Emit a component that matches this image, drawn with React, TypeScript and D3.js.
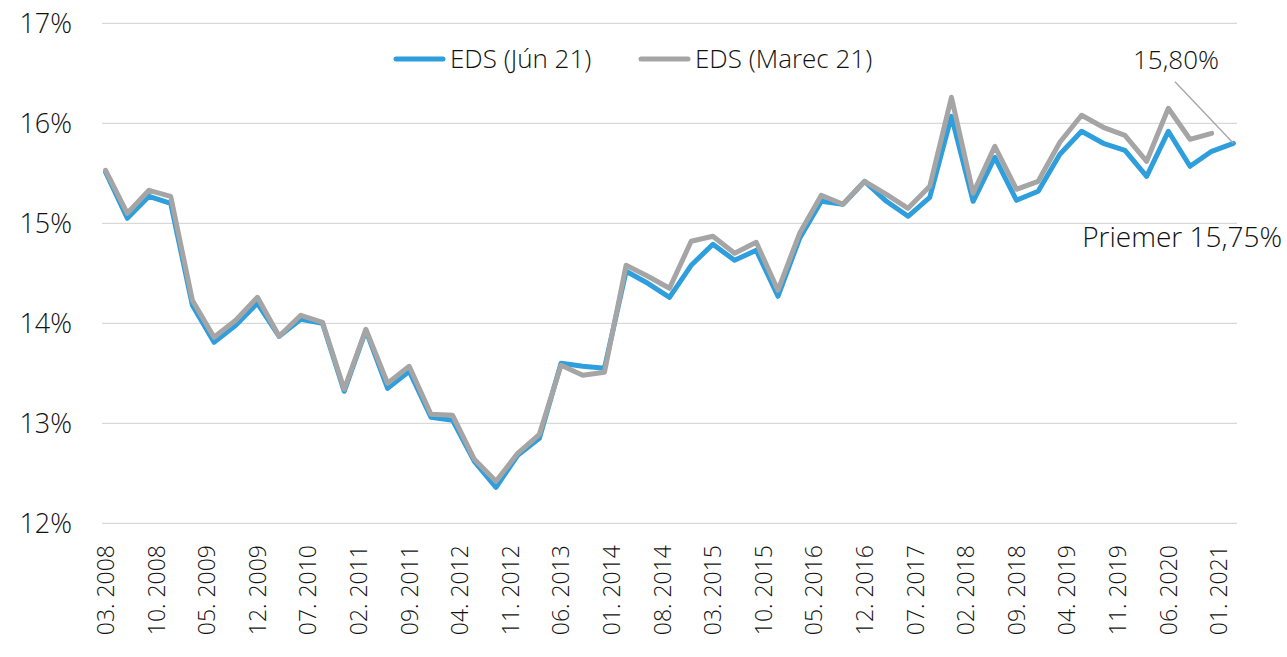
import React from "react";
import * as d3 from "d3";

const W = 1287;
const H = 657;

// quarterly observations starting 03.2008 (month offset 0), step 3 months
const startYear = 2008;
const startMonth = 3;
const blueValues = [
  15.51, 15.05, 15.27, 15.2, 14.18, 13.81, 13.98, 14.2, 13.87, 14.04,
  14.0, 13.32, 13.93, 13.35, 13.52, 13.06, 13.03, 12.62, 12.36, 12.68,
  12.85, 13.6, 13.57, 13.55, 14.52, 14.4, 14.26, 14.58, 14.79, 14.63,
  14.73, 14.27, 14.85, 15.22, 15.19, 15.42, 15.22, 15.07, 15.26, 16.07,
  15.22, 15.66, 15.23, 15.32, 15.69, 15.92, 15.8, 15.73, 15.47, 15.92,
  15.57, 15.72, 15.8,
];
const grayValues = [
  15.53, 15.1, 15.33, 15.27, 14.23, 13.86, 14.03, 14.26, 13.87, 14.08,
  14.01, 13.34, 13.94, 13.4, 13.57, 13.09, 13.08, 12.64, 12.42, 12.7,
  12.89, 13.58, 13.48, 13.51, 14.58, 14.47, 14.35, 14.82, 14.87, 14.7,
  14.81, 14.33, 14.9, 15.28, 15.19, 15.42, 15.29, 15.15, 15.37, 16.26,
  15.3, 15.77, 15.34, 15.42, 15.81, 16.08, 15.96, 15.88, 15.62, 16.15,
  15.84, 15.9,
];
const tickLabels = [
  "03. 2008", "10. 2008", "05. 2009", "12. 2009", "07. 2010", "02. 2011",
  "09. 2011", "04. 2012", "11. 2012", "06. 2013", "01. 2014", "08. 2014",
  "03. 2015", "10. 2015", "05. 2016", "12. 2016", "07. 2017", "02. 2018",
  "09. 2018", "04. 2019", "11. 2019", "06. 2020", "01. 2021",
];
const yTicks = [12, 13, 14, 15, 16, 17];
const seriesNames = ["EDS (Jún 21)", "EDS (Marec 21)"];
const lastLabel = "15,80%";
const avgLabel = "Priemer 15,75%";

const BLUE = "#2E9EDC";
const GRAY = "#A5A5A5";
const FONT = "'Open Sans', sans-serif";
const FW = 300;
const TXT = "#111";

function labelMonthOffset(lbl: string) {
  const [m, y] = lbl.split(".").map((s) => parseInt(s.trim(), 10));
  return (y - startYear) * 12 + (m - startMonth);
}

export default function App() {
  const x = d3.scaleLinear().domain([-0.5, 156.5]).range([102, 1237]);
  const y = d3.scaleLinear().domain([12, 17]).range([523.3, 23.3]);

  const line = d3
    .line<number>()
    .x((_, i) => x(i * 3))
    .y((d) => y(d));

  const lastIdx = blueValues.length - 1;
  const lx = x(lastIdx * 3);
  const ly = y(blueValues[lastIdx]);

  return (
    <svg width={W} height={H} style={{ position: "absolute", left: 0, top: 0, background: "#fff" }}>
      {yTicks.map((t) => (
        <g key={t}>
          <line x1={102} x2={1237} y1={y(t)} y2={y(t)} stroke="#D9D9D9" strokeWidth={1.3} />
          <text
            x={72}
            y={y(t)}
            dy="0.36em"
            textAnchor="end"
            fontFamily={FONT}
            fontWeight={FW}
            fontSize={27}
            fill={TXT}
          >
            {t}%
          </text>
        </g>
      ))}
      {tickLabels.map((lbl) => {
        const tx = x(labelMonthOffset(lbl));
        return (
          <text
            key={lbl}
            transform={`translate(${tx},545) rotate(-90)`}
            dy="0.36em"
            textAnchor="end"
            fontFamily={FONT}
            fontWeight={FW}
            fontSize={23}
            fill={TXT}
          >
            {lbl}
          </text>
        );
      })}
      <path d={line(blueValues) || ""} fill="none" stroke={BLUE} strokeWidth={5} strokeLinejoin="round" strokeLinecap="round" />
      <path d={line(grayValues) || ""} fill="none" stroke={GRAY} strokeWidth={5} strokeLinejoin="round" strokeLinecap="round" />

      {/* legend */}
      <line x1={396} x2={443} y1={59} y2={59} stroke={BLUE} strokeWidth={5} strokeLinecap="round" />
      <text x={450} y={59} dy="0.36em" fontFamily={FONT} fontWeight={FW} fontSize={26} fill={TXT}>
        {seriesNames[0]}
      </text>
      <line x1={641} x2={688} y1={59} y2={59} stroke={GRAY} strokeWidth={5} strokeLinecap="round" />
      <text x={695} y={59} dy="0.36em" fontFamily={FONT} fontWeight={FW} fontSize={26} fill={TXT}>
        {seriesNames[1]}
      </text>

      {/* annotations */}
      <line x1={1175} y1={81.7} x2={lx} y2={ly} stroke={GRAY} strokeWidth={1.3} />
      <text x={1176} y={60} dy="0.36em" textAnchor="middle" fontFamily={FONT} fontWeight={FW} fontSize={26} fill={TXT}>
        {lastLabel}
      </text>
      <text x={1282} y={237} dy="0.36em" textAnchor="end" fontFamily={FONT} fontWeight={FW} fontSize={28} fill={TXT}>
        {avgLabel}
      </text>
    </svg>
  );
}
